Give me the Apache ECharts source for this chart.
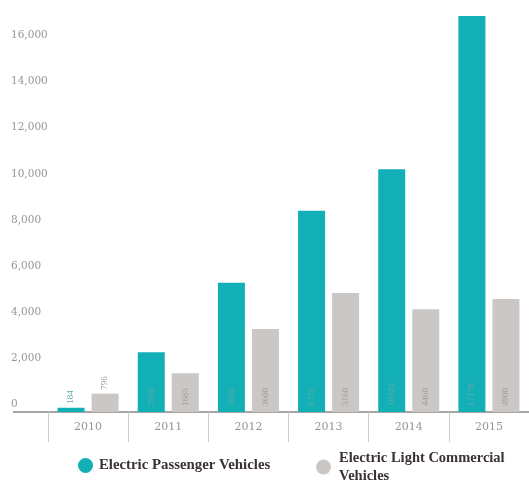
<!DOCTYPE html>
<html>
<head>
<meta charset="utf-8">
<script src="https://cdn.jsdelivr.net/npm/echarts@6/dist/echarts.min.js"></script>
<style>
  html, body { margin: 0; padding: 0; background: #fff; }
  #chart { width: 529px; height: 482px; }
</style>
</head>
<body>
<div id="chart"></div>
<script>
// Yearly electric vehicle registrations
const years = ['2010', '2011', '2012', '2013', '2014', '2015'];
const passengerVehicles = [184, 2590, 5608, 8729, 10524, 17170];
const lightCommercialVehicles = [796, 1685, 3600, 5160, 4460, 4900];
const seriesNames = ['Electric Passenger Vehicles', 'Electric Light Commercial Vehicles'];

const TEAL = '#12b0b6';
const GREY = '#cac7c5';
const SERIF = '"Liberation Serif", "DejaVu Serif", serif';
const AXIS_SERIF = '"DejaVu Serif", "Liberation Serif", serif';

// Small vertical value labels sitting at the foot of each bar;
// the tiny first-year bars carry theirs above the bar instead.
function withLabels(values) {
  return values.map((v, i) => {
    if (i === 0) {
      return {
        value: v,
        label: { position: 'top', distance: 4, align: 'left', verticalAlign: 'middle' }
      };
    }
    return { value: v };
  });
}

function labelStyle(color) {
  return {
    show: true,
    rotate: 90,
    position: 'insideBottom',
    distance: 6,
    align: 'left',
    verticalAlign: 'middle',
    fontFamily: SERIF,
    fontSize: 9,
    color: color
  };
}

const chart = echarts.init(document.getElementById('chart'), null, { renderer: 'canvas' });

const GRID_LEFT = 48;
const GRID_BOTTOM = 70;

chart.setOption({
  animation: false,
  backgroundColor: '#ffffff',
  grid: { left: GRID_LEFT, top: 8.4, width: 485, bottom: GRID_BOTTOM, containLabel: false },
  legend: [
    {
      data: [seriesNames[0]],
      left: 73, top: 453,
      icon: 'circle', itemWidth: 15, itemHeight: 15,
      textStyle: { fontFamily: SERIF, fontWeight: 'bold', fontSize: 14.8, color: '#3b3232', padding: [0, 0, 0, 1] }
    },
    {
      data: [seriesNames[1]],
      left: 311, top: 444,
      icon: 'circle', itemWidth: 15, itemHeight: 15,
      formatter: () => 'Electric Light Commercial\nVehicles',
      textStyle: { fontFamily: SERIF, fontWeight: 'bold', fontSize: 14.5, lineHeight: 18, color: '#3b3232', padding: [0, 0, 0, 3] }
    }
  ],
  xAxis: {
    type: 'category',
    data: years,
    axisLine: { show: true, lineStyle: { color: '#8d8884', width: 1.5 } },
    axisTick: { show: true, length: 30, interval: 0, lineStyle: { color: '#cfcbc8', width: 1 } },
    axisLabel: { margin: 10, fontFamily: AXIS_SERIF, fontSize: 11, color: '#9a9592' },
    splitLine: { show: false }
  },
  yAxis: {
    type: 'value',
    min: 0,
    max: 17500,
    interval: 2000,
    axisLine: { show: false },
    axisTick: { show: false },
    splitLine: { show: false },
    axisLabel: {
      showMaxLabel: false,
      align: 'left',
      verticalAlign: 'bottom',
      margin: 37,
      padding: [0, 0, 2, 0],
      fontFamily: AXIS_SERIF,
      fontSize: 10.5,
      color: '#9a9592',
      formatter: v => v.toLocaleString('en-US')
    }
  },
  series: [
    {
      name: seriesNames[0],
      type: 'bar',
      data: withLabels(passengerVehicles),
      barWidth: 27,
      barGap: '26%',
      itemStyle: { color: TEAL },
      label: labelStyle('#5fa9ab')
    },
    {
      name: seriesNames[1],
      type: 'bar',
      data: withLabels(lightCommercialVehicles),
      barWidth: 27,
      barGap: '26%',
      itemStyle: { color: GREY },
      label: labelStyle('#a19c99')
    }
  ]
});

// Continue the baseline leftwards under the value-axis labels.
const baseY = chart.convertToPixel({ yAxisIndex: 0 }, 0);
chart.setOption({
  graphic: [{
    type: 'line',
    shape: { x1: 13, y1: baseY, x2: GRID_LEFT, y2: baseY },
    style: { stroke: '#8d8884', lineWidth: 1.5 },
    silent: true
  }]
});
</script>
</body>
</html>
